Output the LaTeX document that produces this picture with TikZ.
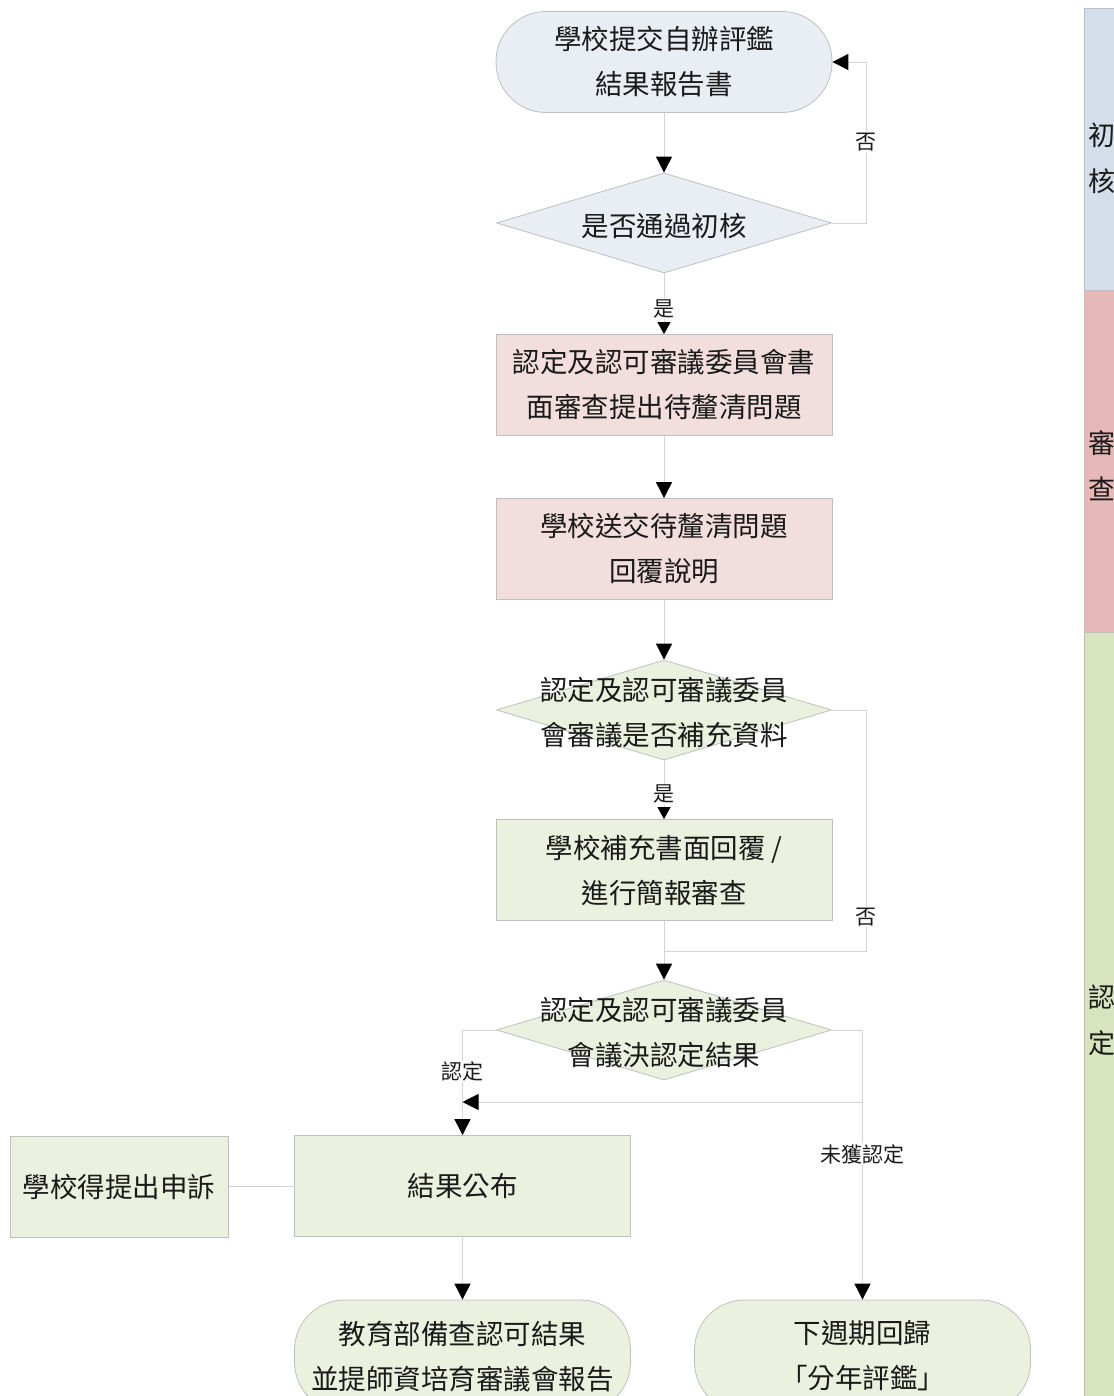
\documentclass[tikz,border=0pt]{standalone}
\usepackage{fontspec}
\setmainfont{Noto Sans CJK TC}
\usetikzlibrary{shapes.geometric,arrows.meta,calc}
\definecolor{bluef}{HTML}{E9EDF4}
\definecolor{pinkf}{HTML}{F2DEDD}
\definecolor{greenf}{HTML}{EBF1DF}
\definecolor{blueb}{HTML}{D3DEEA}
\definecolor{pinkb}{HTML}{E6B9B8}
\definecolor{greenb}{HTML}{D7E4BD}
\definecolor{bord}{HTML}{BFBFBF}
\definecolor{lnc}{HTML}{D4D4D4}
\definecolor{txt}{HTML}{1A1A1A}
\tikzset{
  box/.style={draw=bord, line width=0.8pt, minimum width=336pt, minimum height=101pt, inner sep=0pt, align=center, text=txt, font=\fontsize{27.5}{45}\selectfont},
  term/.style={box, rounded corners=50pt},
  dia/.style={draw=bord, line width=0.8pt, shape=diamond, minimum width=335pt, minimum height=100pt, inner sep=0pt},
  dtext/.style={align=center, text=txt, font=\fontsize{27.5}{45}\selectfont, yshift=-3pt},
  ln/.style={draw=lnc, line width=0.9pt},
  tip/.style={-{Triangle[length=16pt,width=16pt,color=black]}},
  stip/.style={-{Triangle[length=12pt,width=13pt,color=black]}},
  lbl/.style={fill=white, inner sep=1pt, text=txt, font=\fontsize{21}{22}\selectfont},
}
\begin{document}
\begin{tikzpicture}[x=1pt,y=-1pt]
\useasboundingbox (0,0) rectangle (1113,1396);
% bands
\fill[blueb] (1084,8) rectangle (1130,290);
\fill[pinkb] (1084,290) rectangle (1130,632);
\fill[greenb] (1084,632) rectangle (1130,1410);
\draw[bord, line width=0.8pt] (1084,8) -- (1084,1410) (1084,8) -- (1130,8) (1084,290) -- (1130,290) (1084,632) -- (1130,632);
\node[anchor=west, inner sep=0pt, align=left, text=txt, font=\fontsize{27}{46}\selectfont] (bt1) at (1088,158) {初\\核};
\node[anchor=west, inner sep=0pt, align=left, text=txt, font=\fontsize{27}{46}\selectfont] (bt2) at (1088,466) {審\\查};
\node[anchor=west, inner sep=0pt, align=left, text=txt, font=\fontsize{27}{46}\selectfont] (bt3) at (1088,1020) {認\\定};

% nodes
\node[term, fill=bluef] (t1) at (664,62) {學校提交自辦評鑑\\結果報告書};
\node[dia, fill=bluef, label={[dtext]center:是否通過初核}] (d1) at (664,223) {};
\node[box, fill=pinkf] (r1) at (664,385) {認定及認可審議委員會書\\面審查提出待釐清問題};
\node[box, fill=pinkf] (r2) at (664,549) {學校送交待釐清問題\\回覆說明};
\node[dia, fill=greenf, label={[dtext]center:認定及認可審議委員\\會審議是否補充資料}] (d2) at (664,710) {};
\node[box, fill=greenf] (r3) at (664,870) {學校補充書面回覆 /\\進行簡報審查};
\node[dia, fill=greenf, label={[dtext]center:認定及認可審議委員\\會議決認定結果}] (d3) at (664,1030) {};
\node[box, fill=greenf] (res) at (462.5,1186) {結果公布};
\node[box, fill=greenf, minimum width=218pt] (app) at (119,1187) {學校得提出申訴};
\node[term, fill=greenf, minimum height=112pt] (moe) at (462.5,1356) {教育部備查認可結果\\並提師資培育審議會報告};
\node[term, fill=greenf, minimum height=112pt] (nxt) at (862.5,1356) {下週期回歸\\「分年評鑑」};

\coordinate (m) at (664,951);
\coordinate (nr) at (866,951);
\coordinate (h) at (862,1102);

% connectors
\draw[ln,tip] (t1) -- (d1);
\draw[ln,tip] (d1.east) -| node[lbl, pos=0.75] {否} (t1.east -| nr) -- (t1.east);
\draw[ln,stip] (d1) -- node[lbl, pos=0.58] {是} (r1);
\draw[ln,tip] (r1) -- (r2);
\draw[ln,tip] (r2) -- (d2);
\draw[ln,stip] (d2) -- node[lbl, pos=0.58] {是} (r3);
\draw[ln] (d2.east) -| node[lbl, pos=0.93] {否} (nr) -- (m);
\draw[ln] (r3) -- (m);
\draw[ln,tip] (m) -- (d3);
\draw[ln,tip] (d3.west) -| node[lbl, pos=0.695] {認定} (res.north);
\draw[ln,tip] (d3.east) -| node[lbl, pos=0.73] {未獲認定} (nxt.north);
\draw[ln,tip] (h) -- (h -| res.north);
\draw[ln,tip] (res) -- (moe);
\draw[ln] (app) -- (res);
\end{tikzpicture}
\end{document}
